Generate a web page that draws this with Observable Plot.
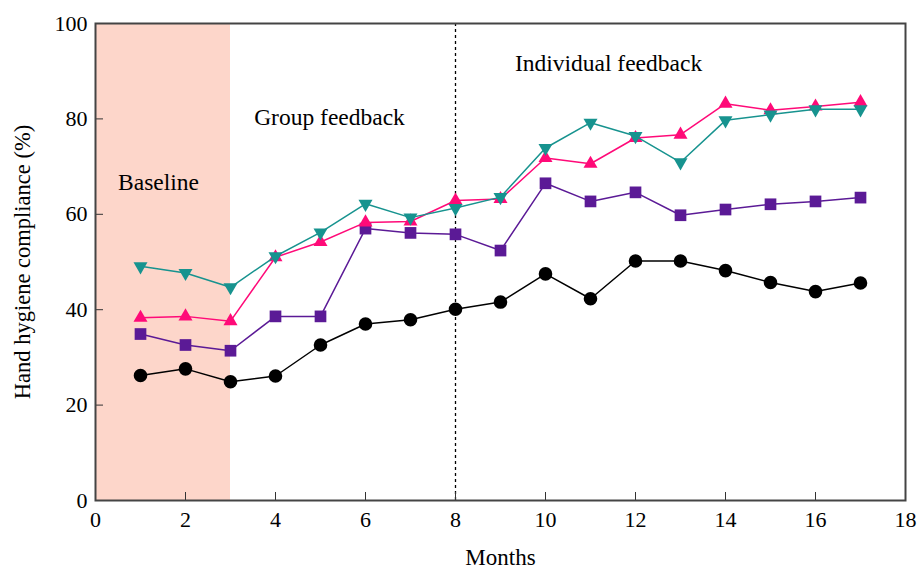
<!DOCTYPE html>
<html>
<head>
<meta charset="utf-8">
<script src="https://cdn.jsdelivr.net/npm/d3@7"></script>
<script src="https://cdn.jsdelivr.net/npm/@observablehq/plot@0.6"></script>
<style>
  html, body { margin: 0; padding: 0; background: #ffffff; }
</style>
</head>
<body>
<div id="chart"></div>
<script>
// Monthly hand hygiene compliance (%) for four groups
const months = [1, 2, 3, 4, 5, 6, 7, 8, 9, 10, 11, 12, 13, 14, 15, 16, 17];
const complianceCircle   = [26.2, 27.6, 24.9, 26.1, 32.6, 37.0, 37.9, 40.1, 41.6, 47.5, 42.3, 50.2, 50.2, 48.2, 45.7, 43.8, 45.6];
const complianceSquare   = [34.9, 32.6, 31.4, 38.6, 38.6, 57.0, 56.1, 55.8, 52.4, 66.5, 62.7, 64.6, 59.8, 61.0, 62.1, 62.7, 63.5];
const complianceTriUp    = [38.3, 38.6, 37.6, 51.0, 54.2, 58.3, 58.5, 62.9, 63.2, 71.8, 70.6, 76.0, 76.7, 83.2, 81.8, 82.6, 83.5];
const complianceTriDown  = [49.1, 47.7, 44.7, 51.2, 56.2, 62.2, 59.3, 61.3, 63.6, 73.9, 79.2, 76.4, 70.9, 79.7, 80.9, 82.0, 82.0];

// Study phases
const baselinePeriod = [{start: 0, end: 3}];
const individualFeedbackStart = [8];

// Axis ticks and titles
const xTicks = [0, 2, 4, 6, 8, 10, 12, 14, 16, 18];
const yTicks = [0, 20, 40, 60, 80, 100];
const xTitle = "Months";
const yTitle = "Hand hygiene compliance (%)";

const serif = "'Liberation Serif', 'DejaVu Serif', serif";

const seriesDefs = [
  {values: complianceCircle,  color: "#000000", symbol: "circle",   r: 6.8, rotate: 0},
  {values: complianceSquare,  color: "#5b1a96", symbol: "square",   r: 6.6, rotate: 0},
  {values: complianceTriUp,   color: "#ff0a78", symbol: "triangle", r: 5.2, rotate: 0},
  {values: complianceTriDown, color: "#17938f", symbol: "triangle", r: 5.2, rotate: 180}
];

const toRows = (values) => values.map((v, i) => ({month: months[i], value: v}));

const seriesMarks = seriesDefs.flatMap(s => {
  const rows = toRows(s.values);
  return [
    Plot.line(rows, {x: "month", y: "value", stroke: s.color, strokeWidth: 1.5}),
    Plot.dot(rows, {x: "month", y: "value", symbol: () => s.symbol, fill: s.color, stroke: "none", r: s.r, rotate: s.rotate})
  ];
});

const phaseLabel = (label, x, y) =>
  Plot.text([label], {x, y, text: d => d, fontFamily: serif, fontSize: 23.5, fill: "#000"});

const chart = Plot.plot({
  width: 917,
  height: 572,
  marginLeft: 95,
  marginRight: 12,
  marginTop: 23,
  marginBottom: 72,
  style: {fontFamily: serif, fontSize: "22px", color: "#000", background: "#fff"},
  x: {domain: [0, 18]},
  y: {domain: [0, 100]},
  symbol: {type: "identity"},
  marks: [
    Plot.rect(baselinePeriod, {x1: "start", x2: "end", fill: "#fdd6ca"}),
    Plot.ruleX(individualFeedbackStart, {stroke: "#000", strokeWidth: 1.3, strokeDasharray: "3,3"}),
    ...seriesMarks,
    phaseLabel("Baseline", 1.4, 66.7),
    phaseLabel("Group feedback", 5.2, 80.2),
    phaseLabel("Individual feedback", 11.4, 91.7),
    Plot.axisX({ticks: xTicks, tickSize: -8, tickFormat: () => "", label: null, stroke: "#333"}),
    Plot.axisX({ticks: xTicks, tickSize: 0, tickPadding: 11, label: null, fontFamily: serif, fontSize: 22}),
    Plot.axisY({ticks: yTicks, tickSize: -8, tickFormat: () => "", label: null, stroke: "#333"}),
    Plot.axisY({ticks: yTicks, tickSize: 0, tickPadding: 8, label: null, fontFamily: serif, fontSize: 22}),
    Plot.text([xTitle], {frameAnchor: "bottom", dy: 57, lineAnchor: "middle", text: d => d, fontFamily: serif, fontSize: 23, fill: "#000"}),
    Plot.text([yTitle], {frameAnchor: "left", dx: -73, rotate: -90, textAnchor: "middle", lineAnchor: "middle", text: d => d, fontFamily: serif, fontSize: 22.5, fill: "#000"}),
    Plot.frame({stroke: "#444", strokeWidth: 2})
  ]
});

document.getElementById("chart").appendChild(chart);
</script>
</body>
</html>
